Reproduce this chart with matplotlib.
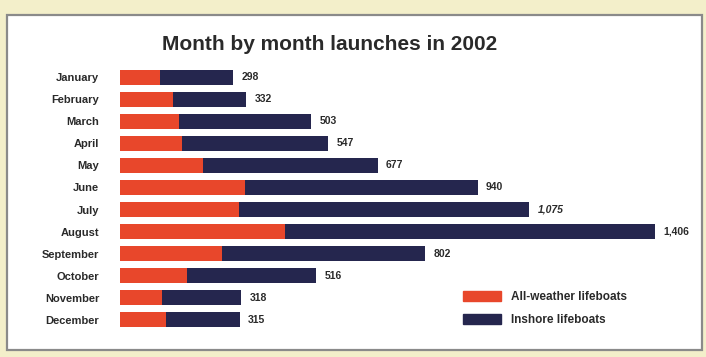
import matplotlib
matplotlib.use("Agg")
import matplotlib.pyplot as plt
from matplotlib.patches import Rectangle, Patch

months = ["January", "February", "March", "April", "May", "June", "July",
          "August", "September", "October", "November", "December"]
totals = [298, 332, 503, 547, 677, 940, 1075, 1406, 802, 516, 318, 315]
all_weather = [104, 139, 154, 162, 219, 329, 313, 434, 267, 175, 110, 122]
inshore = [t - a for t, a in zip(totals, all_weather)]
total_labels = ["298", "332", "503", "547", "677", "940", "1,075", "1,406",
                "802", "516", "318", "315"]

RED = "#e8472b"
NAVY = "#25264e"
BG = "#f3efca"

plt.rcParams['font.family'] = ['Liberation Sans', 'DejaVu Sans']

W, H = 706, 357
fig = plt.figure(figsize=(W / 100, H / 100), dpi=100)
fig.patch.set_facecolor(BG)

# white panel with grey border
fig.patches.append(Rectangle((7 / W, (H - 350) / H), 695 / W, 335 / H,
                             transform=fig.transFigure, facecolor="white",
                             edgecolor="#8a8a8a", linewidth=1.6, zorder=0))

ax = fig.add_axes([120 / W, 26 / H, 560 / W, 265 / H])
ax.set_zorder(2)
ax.set_facecolor("none")
y = list(range(len(months)))
ax.barh(y, all_weather, height=0.68, color=RED, label="All-weather lifeboats")
ax.barh(y, inshore, left=all_weather, height=0.68, color=NAVY, label="Inshore lifeboats")
ax.set_xlim(0, 560 / 0.3806)
ax.set_ylim(11.5, -0.5)
for spine in ax.spines.values():
    spine.set_visible(False)
ax.set_xticks([])
ax.set_yticks(y)
ax.set_yticklabels(months, fontsize=8, fontweight="bold", color="#2a2a2a")
ax.tick_params(axis="y", length=0, pad=15)

for i, (t, lab) in enumerate(zip(totals, total_labels)):
    ax.annotate(lab, (t, i), xytext=(6, 0), textcoords="offset points",
                va="center", ha="left", fontsize=7.5, fontweight="bold",
                color="#2a2a2a", style="italic" if lab == "1,075" else "normal")

fig.text(330 / W, (H - 45) / H, "Month by month launches in 2002", ha="center",
         va="center", fontsize=15, fontweight="bold", color="#2a2a2a")

handles = [Patch(color=RED), Patch(color=NAVY)]
leg = fig.legend(handles, ["All-weather lifeboats", "Inshore lifeboats"],
                 loc="upper left", bbox_to_anchor=(457 / W, (H - 285) / H),
                 frameon=False, prop={"weight": "bold", "size": 8.5},
                 handlelength=3.2, handleheight=1.0, handletextpad=0.9,
                 labelspacing=0.9, borderpad=0, labelcolor="#2a2a2a")
leg.set_zorder(3)

fig.savefig("out.png", dpi=100, facecolor=BG)
